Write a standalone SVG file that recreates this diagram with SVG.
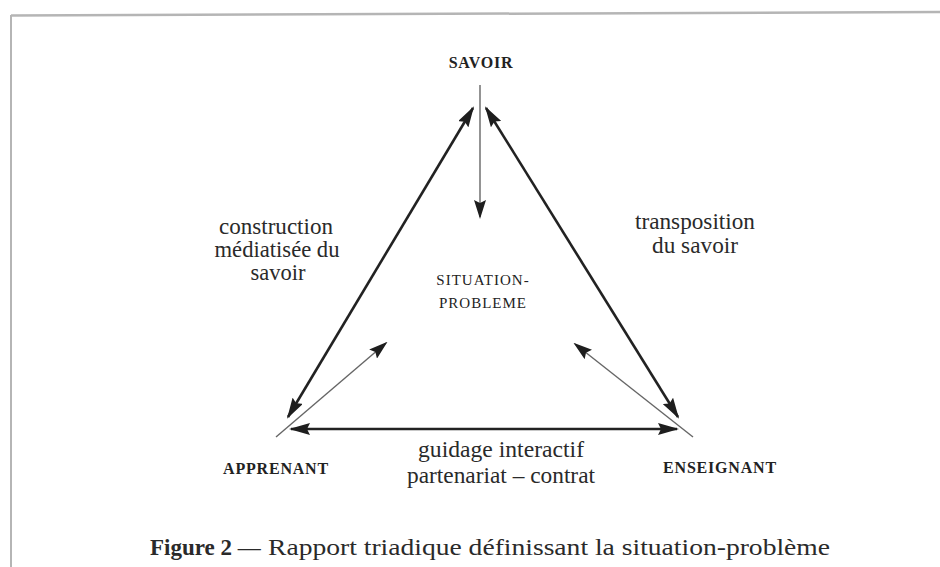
<svg xmlns="http://www.w3.org/2000/svg" width="940" height="567" viewBox="0 0 940 567">
<defs>
<style>
.lbl{font-family:"Liberation Serif","Times New Roman",serif;font-size:23px;fill:#2a2a2a;text-anchor:middle}
.node{font-family:"Liberation Serif","Times New Roman",serif;font-size:16px;font-weight:bold;fill:#222;text-anchor:middle;letter-spacing:0.8px}
.center{font-family:"Liberation Serif","Times New Roman",serif;font-size:15px;fill:#222;text-anchor:middle;letter-spacing:1px}
.cap{font-family:"Liberation Serif","Times New Roman",serif;font-size:23px;fill:#2a2a2a}
.thick{stroke:#222;stroke-width:2.6;fill:none}
.thin{stroke:#666;stroke-width:1.4;fill:none}
.frame{stroke:#b5b5b5;fill:none}
</style>
<marker id="ah" viewBox="0 0 21 12" refX="19" refY="6" markerWidth="21" markerHeight="12" markerUnits="userSpaceOnUse" orient="auto-start-reverse">
<path d="M0,0 L21,6 L0,12 L3,6 z" fill="#1e1e1e"/>
</marker>
<marker id="ahs" viewBox="0 0 19 12" refX="17" refY="6" markerWidth="19" markerHeight="12" markerUnits="userSpaceOnUse" orient="auto">
<path d="M0,0 L19,6 L0,12 L3,6 z" fill="#1e1e1e"/>
</marker>
</defs>
<rect width="940" height="567" fill="#ffffff"/>
<g id="frame">
<line class="frame" x1="11" y1="15.5" x2="940" y2="12" stroke-width="2.5"/>
<line class="frame" x1="11" y1="15" x2="11" y2="567" stroke-width="2"/>
</g>
<g id="connectors">
<line class="thick" x1="473" y1="108" x2="288" y2="417" marker-start="url(#ah)" marker-end="url(#ah)"/>
<line class="thick" x1="486" y1="108" x2="678" y2="417" marker-start="url(#ah)" marker-end="url(#ah)"/>
<line class="thick" x1="291" y1="429" x2="677" y2="429" stroke-width="3" marker-start="url(#ah)" marker-end="url(#ah)"/>
<line class="thin" x1="480" y1="85" x2="480" y2="217" marker-end="url(#ahs)"/>
<line class="thin" x1="276" y1="437" x2="386" y2="343" marker-end="url(#ahs)"/>
<line class="thin" x1="693" y1="437" x2="575" y2="344" marker-end="url(#ahs)"/>
</g>
<g id="savoir"><text class="node" x="481" y="68">SAVOIR</text></g>
<g id="apprenant"><text class="node" x="276" y="474">APPRENANT</text></g>
<g id="enseignant"><text class="node" x="720" y="473">ENSEIGNANT</text></g>
<g id="situation-probleme">
<text class="center" x="483" y="285">SITUATION-</text>
<text class="center" x="483" y="308">PROBLEME</text>
</g>
<g id="label-construction">
<text class="lbl" x="276" y="234" textLength="114" lengthAdjust="spacingAndGlyphs">construction</text>
<text class="lbl" x="277" y="257" textLength="125" lengthAdjust="spacingAndGlyphs">médiatisée du</text>
<text class="lbl" x="278" y="280" textLength="55" lengthAdjust="spacingAndGlyphs">savoir</text>
</g>
<g id="label-transposition">
<text class="lbl" x="695" y="229" textLength="120" lengthAdjust="spacingAndGlyphs">transposition</text>
<text class="lbl" x="695" y="253" textLength="86" lengthAdjust="spacingAndGlyphs">du savoir</text>
</g>
<g id="label-guidage">
<text class="lbl" x="501" y="457" textLength="166" lengthAdjust="spacingAndGlyphs">guidage interactif</text>
<text class="lbl" x="501" y="483" textLength="188" lengthAdjust="spacingAndGlyphs">partenariat – contrat</text>
</g>
<g id="caption">
<text class="cap" x="150" y="555"><tspan font-weight="bold">Figure 2</tspan> — <tspan x="268" textLength="562" lengthAdjust="spacingAndGlyphs">Rapport triadique définissant la situation-problème</tspan></text>
</g>
</svg>
